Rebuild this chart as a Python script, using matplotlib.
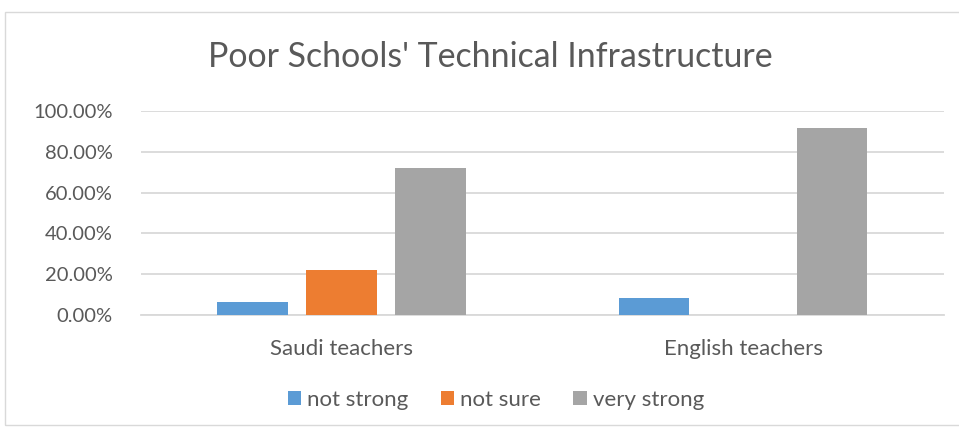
import matplotlib.pyplot as plt
import numpy as np
from matplotlib.ticker import PercentFormatter
from matplotlib.patches import Rectangle

plt.rcParams['font.family'] = ['Lato', 'DejaVu Sans']

groups = ["Saudi teachers", "English teachers"]
series = ["not strong", "not sure", "very strong"]
not_strong = [6.25, 8.33]
not_sure = [21.88, 0.0]
very_strong = [71.88, 91.67]
colors = ["#5B9BD5", "#ED7D31", "#A5A5A5"]
text_col = "#595959"

fig = plt.figure(figsize=(9.59, 4.30), dpi=100)
# outer chart border
fig.patches.append(Rectangle((5 / 959, 1 - 425 / 430), 960 / 959, 413 / 430,
                             transform=fig.transFigure, fill=False,
                             edgecolor="#D9D9D9", linewidth=1))

ax = fig.add_axes([140.75 / 959, 1 - 315 / 430, 803 / 959, 204 / 430])

x = np.arange(len(groups))
w = 0.176
step = 0.222
for i, (vals, name) in enumerate(zip([not_strong, not_sure, very_strong], series)):
    ax.bar(x + (i - 1) * step, vals, width=w, color=colors[i], label=name, zorder=3)

ax.set_xlim(-0.5, 1.5)
ax.set_ylim(0, 100)
ax.set_yticks(np.arange(0, 101, 20))
ax.yaxis.set_major_formatter(PercentFormatter(decimals=2))
ax.grid(axis="y", color="#D9D9D9", linewidth=1.3, zorder=0)
ax.set_axisbelow(True)
for s in ["top", "right", "left"]:
    ax.spines[s].set_visible(False)
ax.spines["bottom"].set_color("#D9D9D9")
ax.spines["bottom"].set_linewidth(1.3)
ax.tick_params(axis="both", length=0, colors=text_col)
ax.tick_params(axis="y", pad=20, labelsize=14.5)
ax.tick_params(axis="x", pad=17, labelsize=16)
ax.set_xticks(x)
ax.set_xticklabels(groups)

fig.text(490 / 959, 1 - 57 / 430, "Poor Schools' Technical Infrastructure",
         ha="center", va="center", fontsize=24.4, color=text_col)

leg = fig.legend(*ax.get_legend_handles_labels(), loc="center",
                 bbox_to_anchor=(496 / 959, 1 - 400 / 430), ncol=3, frameon=False,
                 fontsize=16, handlelength=0.6, handleheight=0.6,
                 handletextpad=0.28, columnspacing=1.45)
for t in leg.get_texts():
    t.set_color(text_col)

fig.savefig("out.png", dpi=100)
